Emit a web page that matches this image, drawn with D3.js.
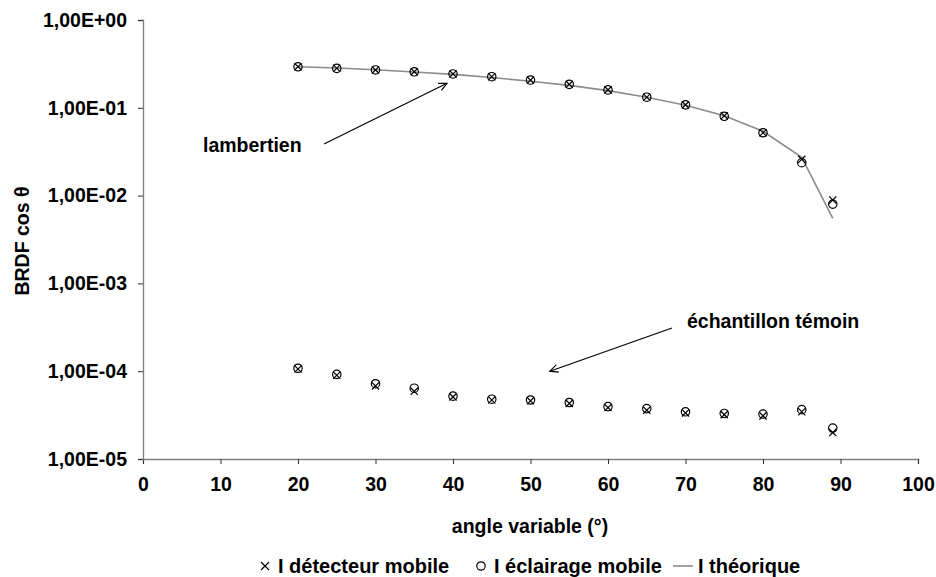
<!DOCTYPE html>
<html><head><meta charset="utf-8">
<script src="https://cdn.jsdelivr.net/npm/d3@7"></script>
<style>
html,body{margin:0;padding:0;background:#fff;}
text{font-family:"Liberation Sans",Arial,sans-serif;font-weight:bold;fill:#000;}
</style></head>
<body>
<svg id="c" width="936" height="577"></svg>
<script>
const angles = [20,25,30,35,40,45,50,55,60,65,70,75,80,85,89];
const lambDetecteur = [0.294,0.282,0.270,0.258,0.243,0.226,0.207,0.185,0.160,0.132,0.108,0.081,0.052,0.0259,0.0089];
const lambEclairage = [0.293,0.281,0.270,0.257,0.243,0.226,0.207,0.185,0.160,0.132,0.108,0.080,0.052,0.0237,0.0080];
const lambTheorique = [0.294,0.284,0.271,0.256,0.240,0.221,0.201,0.180,0.157,0.132,0.107,0.081,0.054,0.0273,0.0055];
const temDetecteur = [1.06e-4,9.0e-5,6.8e-5,5.9e-5,5.1e-5,4.7e-5,4.6e-5,4.3e-5,3.85e-5,3.6e-5,3.35e-5,3.2e-5,3.1e-5,3.45e-5,2.0e-5];
const temEclairage = [1.08e-4,9.2e-5,7.2e-5,6.4e-5,5.2e-5,4.8e-5,4.7e-5,4.4e-5,3.95e-5,3.75e-5,3.45e-5,3.3e-5,3.25e-5,3.65e-5,2.25e-5];
const xTicks = [0,10,20,30,40,50,60,70,80,90,100];
const yTicks = [1,1e-1,1e-2,1e-3,1e-4,1e-5];
const yTickLabels = ["1,00E+00","1,00E-01","1,00E-02","1,00E-03","1,00E-04","1,00E-05"];
const legendLabels = ["I détecteur mobile","I éclairage mobile","I théorique"];
const annotations = ["lambertien","échantillon témoin"];
const xTitle = "angle variable (°)";
const yTitle = "BRDF cos θ";

const svg = d3.select("#c");
const L = 143, R = 918, T = 20, B = 459;
const x = d3.scaleLinear().domain([0,100]).range([L,R]);
const y = d3.scaleLog().domain([1e-5,1]).range([B,T]);
const FS = 19.5;

// axes
const gx = svg.append("g").attr("transform",`translate(0,${B})`)
  .call(d3.axisBottom(x).tickValues(xTicks).tickSize(5).tickPadding(13).tickFormat(d=>d));
gx.select(".domain").attr("stroke","#7f7f7f").attr("stroke-width",1.3);
gx.selectAll(".tick line").attr("stroke","#333");
gx.selectAll(".tick text").style("font-size",FS+"px").style("font-family","'Liberation Sans',Arial,sans-serif").style("font-weight","bold").attr("fill","#000");

const gy = svg.append("g").attr("transform",`translate(${L},0)`)
  .call(d3.axisLeft(y).tickValues(yTicks).tickSize(5).tickPadding(11).tickFormat((d,i)=>yTickLabels[i]));
gy.select(".domain").attr("stroke","#7f7f7f").attr("stroke-width",1.3);
gy.selectAll(".tick line").attr("stroke","#333");
gy.selectAll(".tick text").style("font-size",FS+"px").style("font-family","'Liberation Sans',Arial,sans-serif").style("font-weight","bold").attr("fill","#000");

// axis titles
svg.append("text").attr("x",(L+R)/2-0.5).attr("y",533).attr("text-anchor","middle").style("font-size",FS+"px").text(xTitle);
svg.append("text").attr("transform",`translate(29,241) rotate(-90)`).attr("text-anchor","middle").style("font-size",FS+"px").text(yTitle);

// theoretical line
const line = d3.line().x((d,i)=>x(angles[i])).y(d=>y(d));
svg.append("path").datum(lambTheorique).attr("d",line).attr("fill","none").attr("stroke","#8c8c8c").attr("stroke-width",1.6);

function crosses(vals){
  const s=3.6;
  svg.append("g").selectAll("path").data(vals).join("path")
    .attr("d",(d,i)=>{const cx=x(angles[i]),cy=y(d);return `M${cx-s},${cy-s}L${cx+s},${cy+s}M${cx-s},${cy+s}L${cx+s},${cy-s}`;})
    .attr("stroke","#000").attr("stroke-width",1.2).attr("fill","none");
}
function circles(vals){
  svg.append("g").selectAll("circle").data(vals).join("circle")
    .attr("cx",(d,i)=>x(angles[i])).attr("cy",d=>y(d)).attr("r",4.2)
    .attr("stroke","#000").attr("stroke-width",1.2).attr("fill","none");
}
circles(lambEclairage); crosses(lambDetecteur);
circles(temEclairage); crosses(temDetecteur);

// annotations
function arrow(x1,y1,x2,y2){
  svg.append("line").attr("x1",x1).attr("y1",y1).attr("x2",x2).attr("y2",y2).attr("stroke","#000").attr("stroke-width",1.2);
  const a=Math.atan2(y2-y1,x2-x1), h=9, w=0.45;
  const p1=[x2-h*Math.cos(a-w),y2-h*Math.sin(a-w)], p2=[x2-h*Math.cos(a+w),y2-h*Math.sin(a+w)];
  svg.append("path").attr("d",`M${p1}L${x2},${y2}L${p2}`).attr("fill","none").attr("stroke","#000").attr("stroke-width",1.2);
}
svg.append("text").attr("x",203).attr("y",152).style("font-size",FS+"px").text(annotations[0]);
arrow(324,144,x(40)-6,y(0.19));
svg.append("text").attr("x",687).attr("y",328).style("font-size",FS+"px").text(annotations[1]);
arrow(672,328,x(52.5),y(1.0e-4));

// legend
const LFS = 20;
const lg = svg.append("g");
const ly = 566;
let c1 = 265;
lg.append("path").attr("d",`M${c1-4},${ly-4}L${c1+4},${ly+4}M${c1-4},${ly+4}L${c1+4},${ly-4}`).attr("stroke","#000").attr("stroke-width",1.2);
lg.append("text").attr("x",c1+13).attr("y",ly+7).style("font-size",LFS+"px").text(legendLabels[0]);
let c2 = 481;
lg.append("circle").attr("cx",c2).attr("cy",ly).attr("r",4.2).attr("stroke","#000").attr("stroke-width",1.2).attr("fill","none");
lg.append("text").attr("x",c2+13).attr("y",ly+7).style("font-size",LFS+"px").text(legendLabels[1]);
let c3 = 683;
lg.append("line").attr("x1",c3-10).attr("x2",c3+10).attr("y1",ly).attr("y2",ly).attr("stroke","#8c8c8c").attr("stroke-width",1.6);
lg.append("text").attr("x",c3+15).attr("y",ly+7).style("font-size",LFS+"px").text(legendLabels[2]);
</script>
</body></html>
